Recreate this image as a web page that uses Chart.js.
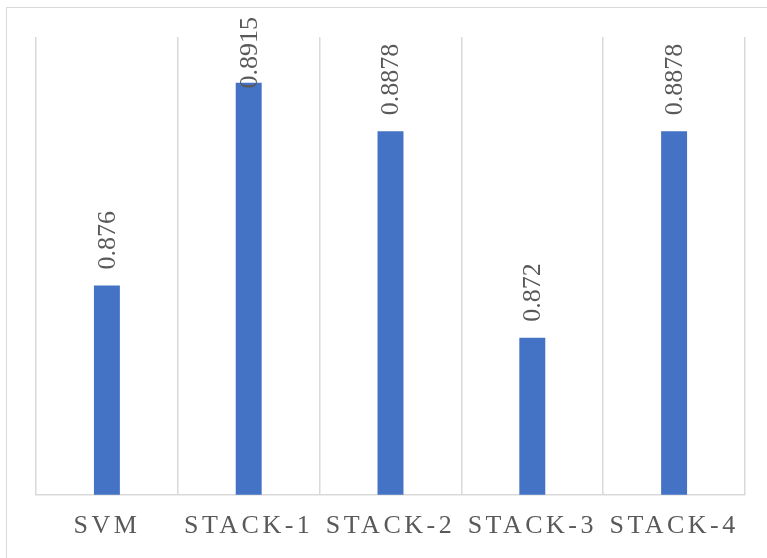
<!DOCTYPE html>
<html>
<head>
<meta charset="utf-8">
<style>
  html, body { margin: 0; padding: 0; background: #fff; }
</style>
<script src="https://cdn.jsdelivr.net/npm/chart.js@4"></script>
</head>
<body>
<canvas id="myChart" width="767" height="558"></canvas>
<script>
/* Data */

const labels = ['SVM', 'STACK-1', 'STACK-2', 'STACK-3', 'STACK-4']
const values = [0.876, 0.8915, 0.8878, 0.872, 0.8878]
const valueLabels = ['0.876', '0.8915', '0.8878', '0.872', '0.8878']

const barColor = '#4472C4'
const textColor = '#595959'
const lineColor = '#d9d9d9'
const serif = '"Liberation Serif", "Times New Roman", serif'

/* Plugins */

const frame = {
    id: 'frame',
    beforeDraw(chart) {
        const c = chart.ctx
        c.save()
        c.strokeStyle = lineColor
        c.lineWidth = 1
        c.strokeRect(6.5, 7.5, 900, 700)
        c.restore()
        // spaced letters for category labels
        c.letterSpacing = '3.5px'
    },
    beforeDatasetsDraw(chart) {
        chart.ctx.letterSpacing = '0px'
    }
}

const valueText = {
    id: 'valueText',
    afterDatasetsDraw(chart) {
        const c = chart.ctx
        const meta = chart.getDatasetMeta(0)
        c.save()
        c.font = '26px ' + serif
        c.fillStyle = textColor
        c.textAlign = 'left'
        c.textBaseline = 'middle'
        meta.data.forEach((bar, i) => {
            const text = valueLabels[i]
            const w = c.measureText(text).width
            let start = bar.y - 16
            const topLimit = chart.chartArea.top - 20
            if (start - w < topLimit) start = topLimit + w
            c.save()
            c.translate(bar.x + 1, start)
            c.rotate(-Math.PI / 2)
            c.fillText(text, 0, 0)
            c.restore()
        })
        c.restore()
    }
}

/* Chart */

const ctx = document.getElementById('myChart')
new Chart(ctx, {
    type: 'bar',
    data: {
        labels,
        datasets: [{
            data: values,
            backgroundColor: barColor,
            borderWidth: 0,
            barPercentage: 0.183,
            categoryPercentage: 1
        }]
    },
    options: {
        responsive: false,
        animation: false,
        layout: {
            padding: {left: 36, top: 37, right: 22, bottom: 0}
        },
        scales: {
            x: {
                offset: true,
                grid: {
                    offset: true,
                    color: lineColor,
                    lineWidth: 1.5,
                    drawTicks: false
                },
                border: {color: lineColor, width: 1.5},
                ticks: {
                    color: textColor,
                    padding: 16,
                    maxRotation: 0,
                    autoSkip: false,
                    font: {family: serif, size: 26}
                }
            },
            y: {
                display: false,
                min: 0.86,
                max: 0.895
            }
        },
        plugins: {
            legend: {display: false},
            tooltip: {enabled: false}
        }
    },
    plugins: [frame, valueText]
})
</script>
</body>
</html>
